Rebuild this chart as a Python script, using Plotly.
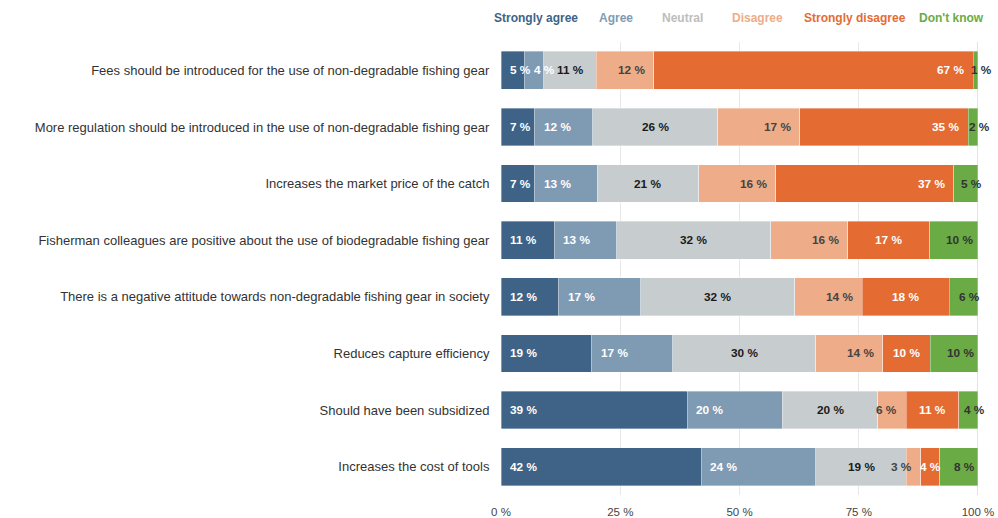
import plotly.graph_objects as go

# Survey statements (top to bottom)
statements = [
    "Fees should be introduced for the use of non-degradable fishing gear",
    "More regulation should be introduced in the use of non-degradable fishing gear",
    "Increases the market price of the catch",
    "Fisherman colleagues are positive about the use of biodegradable fishing gear",
    "There is a negative attitude towards non-degradable fishing gear in society",
    "Reduces capture efficiency",
    "Should have been subsidized",
    "Increases the cost of tools",
]

# Response shares (%) per statement
strongly_agree = [5, 7, 7, 11, 12, 19, 39, 42]
agree = [4, 12, 13, 13, 17, 17, 20, 24]
neutral = [11, 26, 21, 32, 32, 30, 20, 19]
disagree = [12, 17, 16, 16, 14, 14, 6, 3]
strongly_disagree = [67, 35, 37, 17, 18, 10, 11, 4]
dont_know = [1, 2, 5, 10, 6, 10, 4, 8]

x_ticks = [0, 25, 50, 75, 100]
x_tick_labels = ["0 %", "25 %", "50 %", "75 %", "100 %"]

series = [
    ("Strongly agree", strongly_agree, "#3e6387", "#ffffff"),
    ("Agree", agree, "#7f9bb4", "#ffffff"),
    ("Neutral", neutral, "#c7cccf", "#1a1a1a"),
    ("Disagree", disagree, "#eeac88", "#444444"),
    ("Strongly disagree", strongly_disagree, "#e46c32", "#ffffff"),
    ("Don't know", dont_know, "#6aab45", "#333333"),
]
legend_colors = ["#3e6387", "#7f9bb4", "#bdbdbd", "#eeac88", "#e46c32", "#6aab45"]

FONT = "Liberation Sans, Arial, sans-serif"
LABEL_SIZE = 11.8

W, H = 998, 518
ML, MR, MT, MB = 501, 20, 42, 23
PW, PH = W - ML - MR, H - MT - MB


def alignment(name, v):
    """Where a segment's value label sits inside its segment."""
    if name in ("Strongly agree", "Agree"):
        return "start"
    if name == "Disagree":
        return "end"
    if name == "Strongly disagree":
        return "end" if v > 30 else "middle"
    if name == "Don't know":
        return "dk"
    return "middle"


fig = go.Figure()
annotations = []

totals = [sum(s[1][i] for s in series) for i in range(len(statements))]

for k, (name, vals, color, tcolor) in enumerate(series):
    fig.add_trace(go.Bar(
        name=name,
        y=statements,
        x=vals,
        orientation="h",
        marker=dict(color=color, line=dict(color="rgba(255,255,255,0.6)", width=0.6)),
        showlegend=False,
        hoverinfo="skip",
    ))
    # value labels, placed in the normalised (0-100) axis units
    for i, st in enumerate(statements):
        v = vals[i]
        start = sum(s[1][i] for s in series[:k]) / totals[i] * 100
        end = start + v / totals[i] * 100
        mode = alignment(name, v)
        if mode == "start":
            x, anchor, shift = start, "left", 7
        elif mode == "end":
            x, anchor, shift = end, "right", -7
        elif mode == "dk":
            x, anchor, shift = (start + end) / 2, "center", 6
        else:
            x, anchor, shift = (start + end) / 2, "center", 0
        annotations.append(dict(
            x=x, y=st, xref="x", yref="y", text=f"<b>{v} %</b>",
            showarrow=False, xanchor=anchor, xshift=shift,
            font=dict(family=FONT, size=LABEL_SIZE, color=tcolor),
        ))

# text-only legend across the top (pixel positions converted to paper units)
legend_px = [492, 597, 660, 730, 802, 917]
for (name, *_), lx, lc in zip(series, legend_px, legend_colors):
    annotations.append(dict(
        x=(lx - ML) / PW, y=(H - MB - 18) / PH, xref="paper", yref="paper",
        text=f"<b>{name}</b>", showarrow=False, xanchor="left", yanchor="middle",
        font=dict(family=FONT, size=12, color=lc),
    ))

fig.update_layout(
    barmode="stack",
    barnorm="percent",
    bargap=0.335,
    width=W,
    height=H,
    margin=dict(l=ML, r=MR, t=MT, b=MB),
    paper_bgcolor="white",
    plot_bgcolor="white",
    annotations=annotations,
    font=dict(family=FONT, size=12, color="#333333"),
    xaxis=dict(
        range=[0, 100],
        tickvals=x_ticks,
        ticktext=x_tick_labels,
        showgrid=True,
        gridcolor="#e8e8e8",
        gridwidth=1,
        zeroline=False,
        showline=False,
        ticks="outside",
        ticklen=6,
        tickcolor="rgba(0,0,0,0)",
        tickfont=dict(family=FONT, size=11.5, color="#444444"),
        automargin=False,
        fixedrange=True,
    ),
    yaxis=dict(
        autorange="reversed",
        showgrid=False,
        ticks="outside",
        ticklen=8,
        tickcolor="rgba(0,0,0,0)",
        tickfont=dict(family=FONT, size=13, color="#333333"),
        automargin=False,
        fixedrange=True,
    ),
    shapes=[dict(type="line", xref="x", yref="paper", x0=100, x1=100, y0=0, y1=1,
                 line=dict(color="#c8c8c8", width=1))],
)

fig.write_html("out.html", config={"displayModeBar": False})
